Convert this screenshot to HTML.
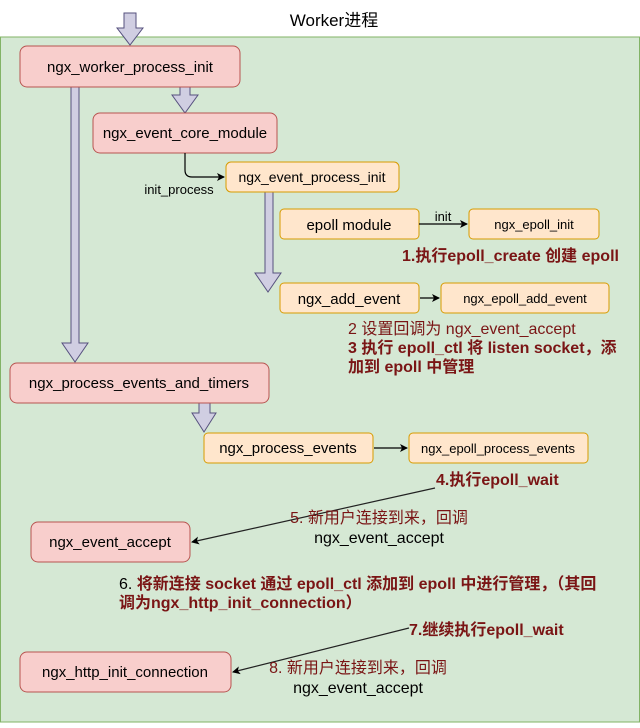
<!DOCTYPE html>
<html><head><meta charset="utf-8"><style>
html,body{margin:0;padding:0;background:#fff;}
svg text{font-family:"Liberation Sans","Noto Sans CJK SC",sans-serif;}
</style></head><body>
<svg width="640" height="723" viewBox="0 0 640 723" xmlns="http://www.w3.org/2000/svg">
<defs><marker id="a" markerWidth="8" markerHeight="8" refX="7" refY="4" orient="auto" markerUnits="userSpaceOnUse"><path d="M0,0 L8,4 L0,8 L2,4 Z" fill="#000"/></marker></defs>
<rect x="0" y="0" width="640" height="723" fill="#fff"/>
<rect x="0.5" y="37" width="639" height="685" fill="#d5e8d4" stroke="#82b366"/>
<text x="334" y="26" font-size="17" text-anchor="middle" fill="#000">Worker进程</text>
<g fill="#d0cee2" stroke="#56517e" stroke-width="1">
<path d="M124,13 H136 V28 H143 L130,45 L117,28 H124 Z"/>
<path d="M71,87 H79 V343 H88 L75,362 L62,343 H71 Z"/>
<path d="M180,87 H190 V95 H198 L185,113 L172,95 H180 Z"/>
<path d="M265,192 H273 V273 H281 L268,292 L255,273 H265 Z"/>
<path d="M199,403 H210 V413 H216 L204,432 L192,413 H199 Z"/>
</g>
<g stroke-width="1">
<rect x="20" y="46" width="220" height="41" rx="7" fill="#f8cecc" stroke="#b85450"/>
<rect x="93" y="113" width="184" height="40" rx="7" fill="#f8cecc" stroke="#b85450"/>
<rect x="226" y="162" width="173" height="30" rx="5" fill="#ffe6cc" stroke="#d79b00"/>
<rect x="280" y="209" width="139" height="30" rx="4" fill="#ffe6cc" stroke="#d79b00"/>
<rect x="469" y="209" width="130" height="30" rx="4" fill="#ffe6cc" stroke="#d79b00"/>
<rect x="280" y="283" width="139" height="30" rx="4" fill="#ffe6cc" stroke="#d79b00"/>
<rect x="441" y="283" width="168" height="30" rx="4" fill="#ffe6cc" stroke="#d79b00"/>
<rect x="10" y="363" width="259" height="40" rx="7" fill="#f8cecc" stroke="#b85450"/>
<rect x="204" y="433" width="169" height="30" rx="4" fill="#ffe6cc" stroke="#d79b00"/>
<rect x="409" y="433" width="179" height="30" rx="4" fill="#ffe6cc" stroke="#d79b00"/>
<rect x="31" y="522" width="159" height="40" rx="7" fill="#f8cecc" stroke="#b85450"/>
<rect x="20" y="652" width="211" height="40" rx="7" fill="#f8cecc" stroke="#b85450"/>
</g>
<g stroke="#000" stroke-width="1.2" fill="none">
<path d="M185,153 V170 Q185,177 192,177 H224" marker-end="url(#a)"/>
<path d="M419,224 H467" marker-end="url(#a)"/>
<path d="M420,298 H439" marker-end="url(#a)"/>
<path d="M374,448 H407" marker-end="url(#a)"/>
<path d="M435,488 L192,542" stroke="#222" marker-end="url(#a)"/>
<path d="M409,628 L233,672" stroke="#222" marker-end="url(#a)"/>
</g>
<g font-size="15" text-anchor="middle" fill="#000">
<text x="130" y="72">ngx_worker_process_init</text>
<text x="185" y="138">ngx_event_core_module</text>
<text x="312" y="182" font-size="14">ngx_event_process_init</text>
<text x="349" y="230" font-size="15">epoll module</text>
<text x="534" y="229" font-size="13">ngx_epoll_init</text>
<text x="349" y="304" font-size="15">ngx_add_event</text>
<text x="525" y="303" font-size="13">ngx_epoll_add_event</text>
<text x="139" y="388">ngx_process_events_and_timers</text>
<text x="288" y="453" font-size="15">ngx_process_events</text>
<text x="498" y="453" font-size="13">ngx_epoll_process_events</text>
<text x="110" y="547">ngx_event_accept</text>
<text x="125" y="677">ngx_http_init_connection</text>
<text x="179" y="194" font-size="13">init_process</text>
<text x="443" y="221" font-size="13">init</text>
</g>
<g fill="#7a1515" font-size="16">
<text x="402" y="261" font-weight="bold">1.执行epoll_create 创建 epoll</text>
<text x="348" y="334">2 设置回调为 ngx_event_accept</text>
<text x="348" y="353" font-weight="bold">3 执行 epoll_ctl 将 listen socket，添</text>
<text x="348" y="372" font-weight="bold">加到 epoll 中管理</text>
<text x="436" y="485" font-weight="bold">4.执行epoll_wait</text>
<text x="379" y="523" text-anchor="middle">5. 新用户连接到来，回调</text>
<text x="379" y="543" text-anchor="middle" fill="#000">ngx_event_accept</text>
<text x="119" y="589" font-weight="bold"><tspan font-weight="normal" fill="#000">6. </tspan>将新连接 socket 通过 epoll_ctl 添加到 epoll 中进行管理，（其回</text>
<text x="119" y="608" font-weight="bold">调为ngx_http_init_connection）</text>
<text x="409" y="635" font-weight="bold">7.继续执行epoll_wait</text>
<text x="358" y="673" text-anchor="middle">8. 新用户连接到来，回调</text>
<text x="358" y="693" text-anchor="middle" fill="#000">ngx_event_accept</text>
</g>
</svg>
</body></html>
